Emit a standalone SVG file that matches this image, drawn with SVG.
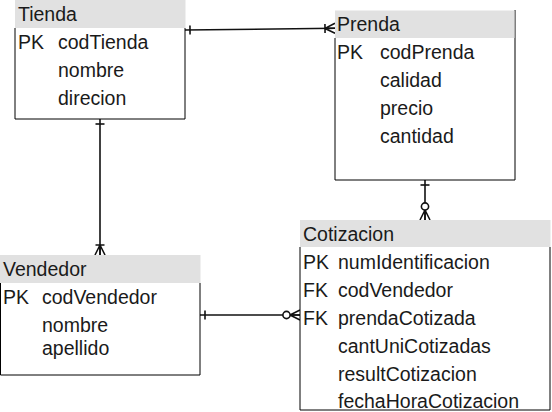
<svg xmlns="http://www.w3.org/2000/svg" width="552" height="412" viewBox="0 0 552 412">
<style>
text{font-family:"Liberation Sans",Arial,sans-serif;font-size:19.5px;fill:#1a1a1a}
.hdr{fill:#e1e1e1;stroke:none}
.body{fill:#fff;stroke:#000;stroke-width:1}
.edge{fill:none;stroke:#111;stroke-width:1.6}
.mk{fill:none;stroke:#111;stroke-width:1.6}
</style>
<defs>
<marker id="one" markerUnits="userSpaceOnUse" orient="auto-start-reverse" refX="0" refY="0" markerWidth="20" markerHeight="20" overflow="visible">
<path class="mk" d="M-5,-4.5V4.5"/>
</marker>
<marker id="oneMany" markerUnits="userSpaceOnUse" orient="auto-start-reverse" refX="0" refY="0" markerWidth="20" markerHeight="20" overflow="visible">
<path class="mk" d="M-10,-4.5V4.5M-10,0L0,-5M-10,0L0,5M-10,0H0"/>
</marker>
<marker id="zeroMany" markerUnits="userSpaceOnUse" orient="auto-start-reverse" refX="0" refY="0" markerWidth="20" markerHeight="20" overflow="visible">
<path class="mk" d="M-10,0L0,-5M-10,0L0,5M-10,0H0"/>
<circle cx="-13.5" cy="0" r="3.6" fill="#fff" stroke="#111" stroke-width="1.6"/>
</marker>
</defs>

<g id="connectors">
<path class="edge" d="M185,30L335,28.3" marker-start="url(#one)" marker-end="url(#oneMany)"/>
<path class="edge" d="M100,119V255" marker-start="url(#one)" marker-end="url(#oneMany)"/>
<path class="edge" d="M425,180V220" marker-start="url(#one)" marker-end="url(#zeroMany)"/>
<path class="edge" d="M200,315H300" marker-start="url(#one)" marker-end="url(#zeroMany)"/>
</g>

<g id="tienda">
<path class="body" d="M15,28V119H185V28" />
<rect class="hdr" x="15" y="-2" width="170.5" height="30"/>
<text x="18" y="21">Tienda</text>
<text x="18" y="49">PK</text>
<text x="58" y="49">codTienda</text>
<text x="58" y="77">nombre</text>
<text x="58" y="105">direcion</text>
</g>

<g id="prenda">
<path class="body" d="M335,38V180H515V10" />
<rect class="hdr" x="335" y="10.5" width="179.5" height="27.5"/>
<text x="337" y="31">Prenda</text>
<text x="337" y="59">PK</text>
<text x="380" y="59">codPrenda</text>
<text x="380" y="87">calidad</text>
<text x="380" y="115">precio</text>
<text x="380" y="143">cantidad</text>
</g>

<g id="vendedor">
<path class="body" d="M0.5,283V375H200V283" />
<rect class="hdr" x="0" y="255" width="200.5" height="28"/>
<text x="3" y="276">Vendedor</text>
<text x="3" y="304">PK</text>
<text x="42" y="304">codVendedor</text>
<text x="42" y="332">nombre</text>
<text x="42" y="355">apellido</text>
</g>

<g id="cotizacion">
<path class="body" d="M300,247V410H550V247" />
<rect class="hdr" x="300" y="220" width="250.5" height="27"/>
<text x="303" y="241">Cotizacion</text>
<text x="303" y="269">PK</text>
<text x="338" y="269">numIdentificacion</text>
<text x="303" y="297">FK</text>
<text x="338" y="297">codVendedor</text>
<text x="303" y="325">FK</text>
<text x="338" y="325">prendaCotizada</text>
<text x="338" y="353">cantUniCotizadas</text>
<text x="338" y="381">resultCotizacion</text>
<text x="338" y="408">fechaHoraCotizacion</text>
</g>
</svg>
